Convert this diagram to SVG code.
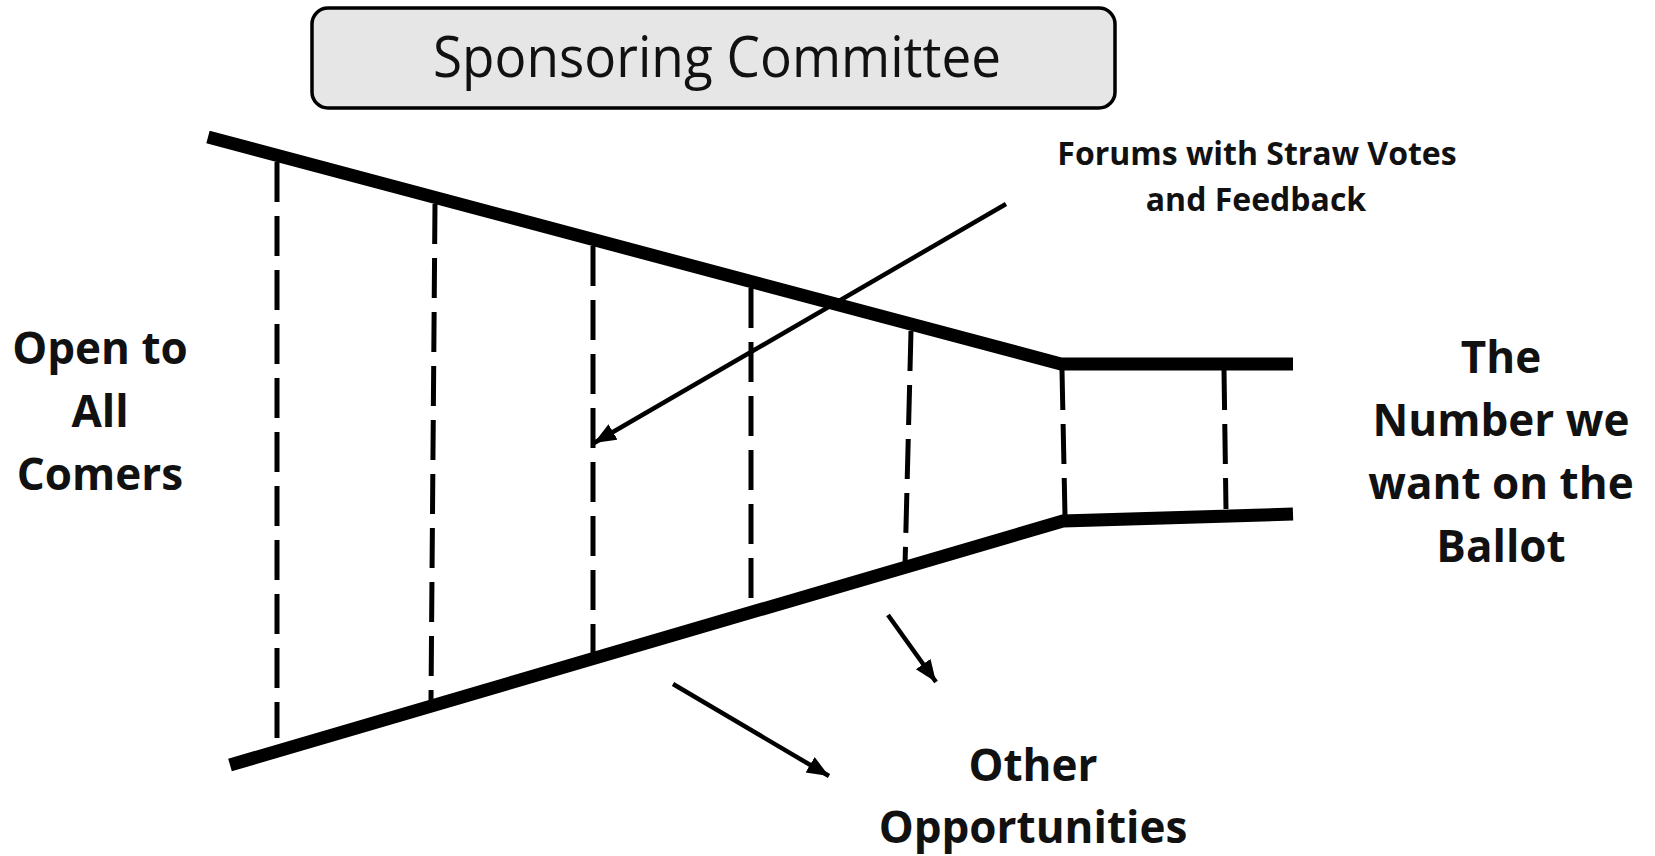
<svg xmlns="http://www.w3.org/2000/svg" width="1655" height="856" viewBox="0 0 1655 856">
  <style>
    .bg { fill: #ffffff; }
    .box { fill: #e7e6e6; stroke: #000; stroke-width: 3.5; }
    .title { font-family: "Open Sans", "Noto Sans", "Liberation Sans", sans-serif; font-size: 57px; fill: #111; text-anchor: middle; }
    .lbl { font-family: "Open Sans", "Noto Sans", "Liberation Sans", sans-serif; font-weight: bold; font-size: 44px; fill: #111; text-anchor: middle; }
    .lbl-s { font-family: "Open Sans", "Noto Sans", "Liberation Sans", sans-serif; font-weight: bold; font-size: 32px; fill: #111; text-anchor: middle; }
    .wall { fill: none; stroke: #000; stroke-width: 13; stroke-linejoin: miter; stroke-linecap: butt; }
    .stage { stroke: #000; stroke-width: 5; stroke-dasharray: 40 14; fill: none; }
    .arrow { stroke: #000; stroke-width: 4.5; fill: none; }
  </style>
  <defs>
    <marker id="head" markerUnits="userSpaceOnUse" markerWidth="24" markerHeight="20" refX="22" refY="9" orient="auto">
      <path d="M0,0 L22,9 L0,18 z" fill="#000"/>
    </marker>
  </defs>
  <rect class="bg" x="0" y="0" width="1655" height="856"/>

  <g id="sponsoring-committee">
    <rect class="box" x="312" y="8" width="803" height="100" rx="16" ry="16"/>
    <text class="title" x="717" y="77" textLength="568" lengthAdjust="spacingAndGlyphs">Sponsoring Committee</text>
  </g>

  <g id="funnel">
    <polyline class="wall" points="208,137 1061,364 1293,364"/>
    <polyline class="wall" points="230,765 1063,521 1293,514"/>
    <line class="stage" x1="277" y1="162" x2="277" y2="738"/>
    <line class="stage" x1="435" y1="204" x2="431" y2="700"/>
    <line class="stage" x1="593" y1="246" x2="593" y2="654"/>
    <line class="stage" x1="751" y1="288" x2="751" y2="600"/>
    <line class="stage" x1="911" y1="331" x2="905" y2="566"/>
    <line class="stage" x1="1062" y1="370" x2="1065" y2="516"/>
    <line class="stage" x1="1224" y1="370" x2="1226" y2="509"/>
  </g>

  <g id="connectors">
    <line class="arrow" x1="1006" y1="204" x2="594" y2="443" marker-end="url(#head)"/>
    <line class="arrow" x1="888" y1="615" x2="936" y2="682" marker-end="url(#head)"/>
    <line class="arrow" x1="673" y1="684" x2="829" y2="776" marker-end="url(#head)"/>
  </g>

  <g id="label-forums">
    <text class="lbl-s" x="1257" y="165">Forums with Straw Votes</text>
    <text class="lbl-s" x="1256" y="211">and Feedback</text>
  </g>

  <g id="label-open">
    <text class="lbl" x="100" y="364">Open to</text>
    <text class="lbl" x="100" y="427">All</text>
    <text class="lbl" x="100" y="490">Comers</text>
  </g>

  <g id="label-number">
    <text class="lbl" x="1501" y="373">The</text>
    <text class="lbl" x="1501" y="436">Number we</text>
    <text class="lbl" x="1501" y="499">want on the</text>
    <text class="lbl" x="1501" y="562">Ballot</text>
  </g>

  <g id="label-other">
    <text class="lbl" x="1033" y="781">Other</text>
    <text class="lbl" x="1033" y="843">Opportunities</text>
  </g>
</svg>
